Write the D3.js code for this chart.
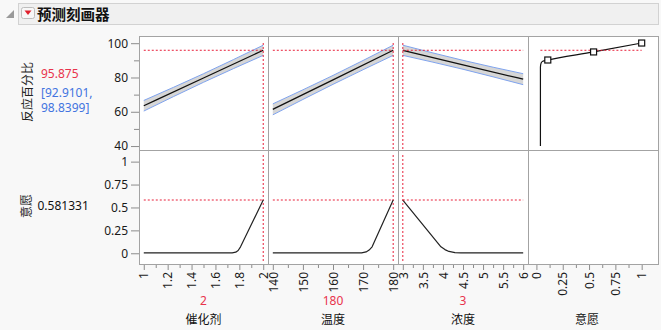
<!DOCTYPE html>
<html>
<head>
<meta charset="utf-8">
<script src="https://cdn.jsdelivr.net/npm/d3@7"></script>
<style>
  body { margin: 0; background: #f8f8f8; }
  svg { display: block; }
  text { font-family: "Noto Sans", "Noto Sans CJK SC", sans-serif; }
  .cjk { font-family: "Noto Sans CJK SC", sans-serif; }
  .axis path { display: none; }
  .axis line { stroke: #8c8c8c; }
  .axis text { fill: #1a1a1a; font-size: 12px; }
</style>
</head>
<body>
<svg width="661" height="330"></svg>
<script>
// factors
const factorNames = ["催化剂", "温度", "浓度"]
const factorDomains = [[1, 2], [140, 180], [3, 6]]
const currentValues = ["2", "180", "3"]
const currentNums = [2, 180, 3]
const factorTicks = [
  [1, 1.2, 1.4, 1.6, 1.8, 2],
  [140, 150, 160, 170, 180],
  [3, 3.5, 4, 4.5, 5, 5.5, 6]
]
const factorMinor = [
  [1.1, 1.3, 1.5, 1.7, 1.9],
  [145, 155, 165, 175],
  [3.25, 3.75, 4.25, 4.75, 5.25, 5.75]
]

// response profile (反应百分比): x, prediction, lower, upper
const catalystX = [1, 1.5, 2]
const catalystPred = [63.5, 79.7, 95.875]
const catalystLower = [60.4, 77.2, 92.9101]
const catalystUpper = [66.6, 82.2, 98.8399]

const tempX = [140, 160, 180]
const tempPred = [61.4, 78.6, 95.875]
const tempLower = [58.2, 76.0, 92.9101]
const tempUpper = [64.6, 81.2, 98.8399]

const concX = [3, 4.5, 6]
const concPred = [95.875, 87.4, 79.0]
const concLower = [92.9101, 84.8, 75.8]
const concUpper = [98.8399, 90.0, 82.2]

// desirability profile (意愿)
const catalystDX = [1, 1.74, 1.77, 1.79, 1.81, 2]
const catalystD = [0.005, 0.005, 0.012, 0.03, 0.07, 0.581331]
const tempDX = [140, 169.5, 171, 172, 173, 180]
const tempD = [0.005, 0.005, 0.015, 0.035, 0.07, 0.581331]
const concDX = [3, 3.95, 4.05, 4.15, 4.3, 4.45, 6]
const concD = [0.581331, 0.07, 0.04, 0.02, 0.008, 0.005, 0.005]

// desirability function: desirability vs response
const desFuncD = [0.038, 0.038, 0.045, 0.06, 0.108, 0.543, 1.0]
const desFuncY = [40, 86, 88.5, 89.5, 90.2, 94.9, 100.1]
const desCtrlD = [0.108, 0.543, 1.0]
const desCtrlY = [90.2, 94.9, 100.1]

const predValue = "95.875"
const ciLow = "[92.9101,"
const ciHigh = "98.8399]"
const desValue = "0.581331"
const predNum = 95.875
const desNum = 0.581331

const respTicks = [40, 60, 80, 100]
const respMinor = [50, 70, 90]
const desTicks = [0, 0.25, 0.5, 0.75, 1]
const desXTicks = [0, 0.25, 0.5, 0.75, 1]
const desXMinor = [0.125, 0.375, 0.625, 0.875]

const RED = "#e8334c", BLUE = "#4274e0"
const svg = d3.select("svg")

// title bar
svg.append("rect").attr("x", 18.5).attr("y", 3.5).attr("width", 640).attr("height", 21)
  .attr("fill", "#f0f0f0").attr("stroke", "#d2d2d2")
svg.append("path").attr("d", "M14,10 L14,18 L6,18 Z").attr("fill", "#9a9a9a")
svg.append("rect").attr("x", 21.5).attr("y", 7.5).attr("width", 13).attr("height", 11).attr("rx", 2)
  .attr("fill", "#f7f7f7").attr("stroke", "#bdbdbd")
svg.append("path").attr("d", "M24.5,10.5 L31.5,10.5 L28,15 Z").attr("fill", "#e0202c")
svg.append("text").attr("class", "cjk").attr("x", 37).attr("y", 19.5)
  .attr("font-size", 14.5).attr("font-weight", "bold").attr("fill", "#111").text("预测刻画器")

// layout
const colX0 = [139, 268, 398, 528], colX1 = [268, 398, 528, 658]
const topY0 = 36, topY1 = 150, botY0 = 150, botY1 = 264

const yResp = d3.scaleLinear().domain([37.7, 104.2]).range([topY1, topY0])
const yDes = d3.scaleLinear().domain([-0.117, 1.127]).range([botY1, botY0])

const xScales = factorDomains.map((d, i) => {
  const pad = (d[1] - d[0]) * 0.04
  return d3.scaleLinear().domain([d[0] - pad, d[1] + pad]).range([colX0[i], colX1[i]])
})
const xDesFn = d3.scaleLinear().domain([-0.08, 1.155]).range([colX0[3], colX1[3]])

// panel backgrounds
for (let c = 0; c < 4; c++) {
  for (const [y0, y1] of [[topY0, topY1], [botY0, botY1]]) {
    svg.append("rect").attr("x", colX0[c]).attr("y", y0)
      .attr("width", colX1[c] - colX0[c]).attr("height", y1 - y0)
      .attr("fill", "white")
  }
}

// y axes
svg.append("g").attr("class", "axis").attr("transform", `translate(${colX0[0]},0)`)
  .call(d3.axisLeft(yResp).tickValues(respTicks).tickSize(8).tickPadding(3).tickFormat(d3.format("d")))
svg.append("g").attr("class", "axis").attr("transform", `translate(${colX0[0]},0)`)
  .call(d3.axisLeft(yResp).tickValues(respMinor).tickSize(5).tickFormat(""))
svg.append("g").attr("class", "axis").attr("transform", `translate(${colX0[0]},0)`)
  .call(d3.axisLeft(yDes).tickValues(desTicks).tickSize(8).tickPadding(3).tickFormat(d3.format("")))

// x axes
function xAxis(scale, ticks, minor, fmt) {
  const g = svg.append("g").attr("class", "axis").attr("transform", `translate(0,${botY1})`)
  g.call(d3.axisBottom(scale).tickValues(ticks).tickSize(6).tickFormat(fmt))
  g.selectAll("text")
    .attr("transform", "rotate(-90)")
    .attr("text-anchor", "end")
    .attr("x", -8).attr("y", 0).attr("dy", "0.35em")
  svg.append("g").attr("class", "axis").attr("transform", `translate(0,${botY1})`)
    .call(d3.axisBottom(scale).tickValues(minor).tickSize(4).tickFormat(""))
}
factorTicks.forEach((t, i) => xAxis(xScales[i], t, factorMinor[i], d3.format("")))
xAxis(xDesFn, desXTicks, desXMinor, d3.format(""))

// dashed reference lines
function dash(x1, y1, x2, y2) {
  svg.append("line").attr("x1", x1).attr("y1", y1).attr("x2", x2).attr("y2", y2)
    .attr("stroke", "#e8203a").attr("stroke-width", 1).attr("stroke-dasharray", "2,2")
}

const respData = [
  [catalystX, catalystPred, catalystLower, catalystUpper],
  [tempX, tempPred, tempLower, tempUpper],
  [concX, concPred, concLower, concUpper]
]
const desData = [[catalystDX, catalystD], [tempDX, tempD], [concDX, concD]]

respData.forEach(([xs, pred, lo, hi], i) => {
  const x = xScales[i]
  const pts = xs.map((v, j) => ({ x: v, p: pred[j], lo: lo[j], hi: hi[j] }))
  svg.append("path").datum(pts)
    .attr("d", d3.area().x(d => x(d.x)).y0(d => yResp(d.lo)).y1(d => yResp(d.hi)).curve(d3.curveMonotoneX))
    .attr("fill", "#d6d6d6")
  for (const k of ["lo", "hi"]) {
    svg.append("path").datum(pts)
      .attr("d", d3.line().x(d => x(d.x)).y(d => yResp(d[k])).curve(d3.curveMonotoneX))
      .attr("fill", "none").attr("stroke", "#7fa3ee").attr("stroke-width", 1)
  }
  svg.append("path").datum(pts)
    .attr("d", d3.line().x(d => x(d.x)).y(d => yResp(d.p)).curve(d3.curveMonotoneX))
    .attr("fill", "none").attr("stroke", "#111").attr("stroke-width", 1.3)

  const [a, b] = factorDomains[i]
  dash(x(a), yResp(predNum), x(b), yResp(predNum))
  dash(x(currentNums[i]), topY0 + 7, x(currentNums[i]), topY1)
  dash(x(currentNums[i]), botY0 + 5, x(currentNums[i]), botY1 - 2)

  const [dx, dv] = desData[i]
  const dpts = dx.map((v, j) => ({ x: v, d: dv[j] }))
  svg.append("path").datum(dpts)
    .attr("d", d3.line().x(d => x(d.x)).y(d => yDes(d.d)))
    .attr("fill", "none").attr("stroke", "#222").attr("stroke-width", 1.2)
    .attr("stroke-linejoin", "round")
  dash(x(a), yDes(desNum), x(b), yDes(desNum))
})

// desirability function panel
const fpts = desFuncD.map((d, j) => ({ d: d, y: desFuncY[j] }))
svg.append("path").datum(fpts)
  .attr("d", d3.line().x(p => xDesFn(p.d)).y(p => yResp(p.y)).curve(d3.curveMonotoneY))
  .attr("fill", "none").attr("stroke", "#111").attr("stroke-width", 1.2)
dash(xDesFn(d3.min(desFuncD)), yResp(predNum), xDesFn(d3.max(desFuncD)), yResp(predNum))
svg.selectAll(".ctrl").data(desCtrlD).enter().append("rect")
  .attr("x", (d) => xDesFn(d) - 3).attr("y", (d, j) => yResp(desCtrlY[j]) - 3)
  .attr("width", 6).attr("height", 6)
  .attr("fill", "white").attr("stroke", "#111").attr("stroke-width", 1.2)

// panel borders
for (let c = 0; c < 4; c++) {
  for (const [y0, y1] of [[topY0, topY1], [botY0, botY1]]) {
    svg.append("rect").attr("x", colX0[c] + 0.5).attr("y", y0 + 0.5)
      .attr("width", colX1[c] - colX0[c]).attr("height", y1 - y0)
      .attr("fill", "none").attr("stroke", "#a3a3a3")
  }
}

// left labels
svg.append("text").attr("class", "cjk").attr("font-size", 12).attr("fill", "#222")
  .attr("transform", "translate(32,92) rotate(-90)").attr("text-anchor", "middle").text("反应百分比")
svg.append("text").attr("x", 41).attr("y", 78).attr("font-size", 12).attr("fill", RED).text(predValue)
svg.append("text").attr("x", 41).attr("y", 96.5).attr("font-size", 12).attr("fill", BLUE).text(ciLow)
svg.append("text").attr("x", 41).attr("y", 112).attr("font-size", 12).attr("fill", BLUE).text(ciHigh)
svg.append("text").attr("class", "cjk").attr("font-size", 12).attr("fill", "#222")
  .attr("transform", "translate(31,206) rotate(-90)").attr("text-anchor", "middle").text("意愿")
svg.append("text").attr("x", 37.5).attr("y", 210).attr("font-size", 12).attr("fill", "#111").text(desValue)

// bottom labels
const labelCx = [203.5, 333, 463, 587]
currentValues.forEach((v, i) => {
  svg.append("text").attr("x", labelCx[i]).attr("y", 305).attr("text-anchor", "middle")
    .attr("font-size", 12).attr("fill", RED).text(v)
})
factorNames.concat(["意愿"]).forEach((n, i) => {
  svg.append("text").attr("class", "cjk").attr("x", labelCx[i]).attr("y", 323.5).attr("text-anchor", "middle")
    .attr("font-size", 12).attr("fill", "#111").text(n)
})
</script>
</body>
</html>
